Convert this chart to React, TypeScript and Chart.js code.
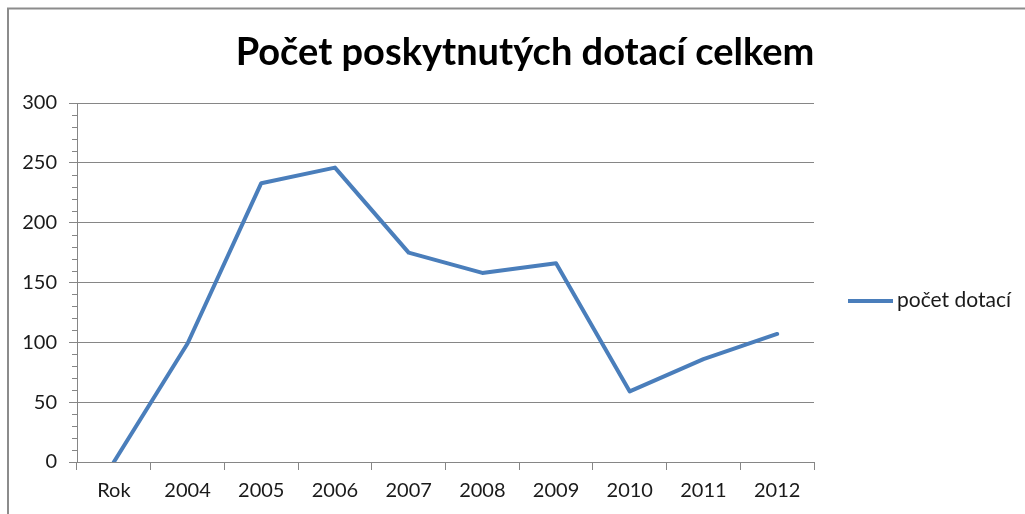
import { useEffect, useRef } from 'react';
import { Chart, registerables } from 'chart.js';

Chart.register(...registerables);

const categories = ['Rok', '2004', '2005', '2006', '2007', '2008', '2009', '2010', '2011', '2012'];
const values = [0, 99, 233, 246, 175, 158, 166, 59, 86, 107];
const seriesLabel = 'počet dotací';
const chartTitle = 'Počet poskytnutých dotací celkem';
const yMin = 0;
const yMax = 300;
const yStep = 50;
const yMinorStep = 10;

const LINE_COLOR = '#4a7ebb';
const GRID_COLOR = '#868686';
const TEXT_COLOR = '#1a1a1a';
const FONT = 'Lato, "Open Sans", sans-serif';

export default function App() {
  const ref = useRef<HTMLCanvasElement>(null);

  useEffect(() => {
    const canvas = ref.current;
    if (!canvas) return;

    const framePlugin = {
      id: 'frame',
      beforeDraw(chart: any) {
        const ctx = chart.ctx;
        ctx.save();
        ctx.fillStyle = '#ffffff';
        ctx.fillRect(0, 0, chart.width, chart.height);
        ctx.strokeStyle = '#8c8c8c';
        ctx.lineWidth = 2;
        ctx.beginPath();
        ctx.moveTo(8, chart.height + 5);
        ctx.lineTo(8, 8.5);
        ctx.lineTo(chart.width + 5, 8.5);
        ctx.stroke();
        ctx.restore();
      },
    };

    const extrasPlugin = {
      id: 'extras',
      afterDraw(chart: any) {
        const ctx = chart.ctx;
        const y = chart.scales.y;
        ctx.save();
        // minor ticks
        ctx.strokeStyle = GRID_COLOR;
        ctx.lineWidth = 1;
        ctx.beginPath();
        for (let v = yMin; v <= yMax; v += yMinorStep) {
          if (v % yStep === 0) continue;
          const py = Math.round(y.getPixelForValue(v)) + 0.5;
          ctx.moveTo(chart.chartArea.left - 5, py);
          ctx.lineTo(chart.chartArea.left, py);
        }
        ctx.stroke();

        // title
        ctx.fillStyle = '#000000';
        ctx.font = `bold 38px ${FONT}`;
        ctx.textAlign = 'center';
        ctx.textBaseline = 'alphabetic';
        ctx.fillText(chartTitle, 525, 65);

        // legend
        const ds = chart.data.datasets[0];
        ctx.strokeStyle = ds.borderColor;
        ctx.lineWidth = 4;
        ctx.lineCap = 'butt';
        ctx.beginPath();
        ctx.moveTo(848, 301);
        ctx.lineTo(893, 301);
        ctx.stroke();
        ctx.fillStyle = TEXT_COLOR;
        ctx.font = `21px ${FONT}`;
        ctx.textAlign = 'left';
        ctx.textBaseline = 'middle';
        ctx.fillText(ds.label, 897, 300);
        ctx.restore();
      },
    };

    const chart = new Chart(canvas, {
      type: 'line',
      data: {
        labels: categories,
        datasets: [
          {
            label: seriesLabel,
            data: values,
            borderColor: LINE_COLOR,
            backgroundColor: LINE_COLOR,
            borderWidth: 4,
            pointRadius: 0,
            tension: 0,
            borderCapStyle: 'round',
            borderJoinStyle: 'round',
          },
        ],
      },
      options: {
        responsive: false,
        animation: false,
        layout: { padding: { top: 103, right: 211, bottom: 0, left: 0 } },
        plugins: {
          legend: { display: false },
          title: { display: false },
          tooltip: { enabled: false },
        },
        scales: {
          x: {
            type: 'category',
            offset: true,
            afterFit(scale: any) {
              scale.height = 52;
            },
            grid: {
              offset: true,
              drawOnChartArea: false,
              drawTicks: true,
              tickLength: 8,
              color: GRID_COLOR,
            },
            border: { display: true, color: GRID_COLOR },
            ticks: {
              color: TEXT_COLOR,
              font: { family: FONT, size: 20 },
              padding: 9,
              maxRotation: 0,
              autoSkip: false,
            },
          },
          y: {
            min: yMin,
            max: yMax,
            afterFit(scale: any) {
              scale.width = 77;
            },
            grid: {
              color: GRID_COLOR,
              drawTicks: true,
              tickLength: 8,
            },
            border: { display: true, color: GRID_COLOR },
            ticks: {
              stepSize: yStep,
              color: TEXT_COLOR,
              font: { family: FONT, size: 20 },
              padding: 12,
            },
          },
        },
      },
      plugins: [framePlugin, extrasPlugin],
    });

    return () => chart.destroy();
  }, []);

  return (
    <div style={{ position: 'fixed', left: 0, top: 0, width: 1025, height: 514 }}>
      <canvas ref={ref} width={1025} height={514} style={{ display: 'block' }} />
    </div>
  );
}
